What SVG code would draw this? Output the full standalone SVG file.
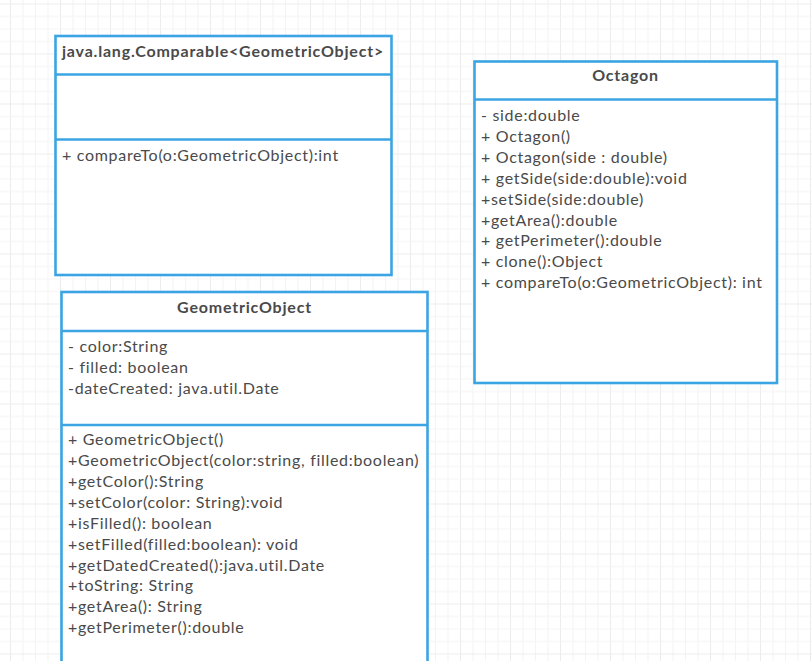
<svg xmlns="http://www.w3.org/2000/svg" width="812" height="661" viewBox="0 0 812 661">
<style>
.box{fill:#ffffff;stroke:#3ba5e3;stroke-width:2.6}
.div{stroke:#3ba5e3;stroke-width:2.6}
.t{font-family:Lato,"Open Sans","Liberation Sans",sans-serif;font-size:16px;letter-spacing:0.7px;fill:#4a4a4a}
.b{font-family:Lato,"Open Sans","Liberation Sans",sans-serif;font-size:16px;letter-spacing:0.8px;font-weight:bold;fill:#4a4a4a}
</style>
<defs>
<pattern id="grid" patternUnits="userSpaceOnUse" x="10" y="3.5" width="50" height="50">
<rect x="0" y="0" width="1" height="50" fill="#ececec"/>
<rect x="12.5" y="0" width="1" height="50" fill="#f4f4f4"/>
<rect x="25" y="0" width="1" height="50" fill="#f4f4f4"/>
<rect x="37.5" y="0" width="1" height="50" fill="#f4f4f4"/>
<rect x="0" y="0" width="50" height="1" fill="#ececec"/>
<rect x="0" y="12.5" width="50" height="1" fill="#f4f4f4"/>
<rect x="0" y="25" width="50" height="1" fill="#f4f4f4"/>
<rect x="0" y="37.5" width="50" height="1" fill="#f4f4f4"/>
</pattern>
</defs>
<rect x="0" y="0" width="812" height="661" fill="#ffffff"/>
<rect x="0" y="0" width="812" height="661" fill="url(#grid)"/>
<g id="connectors"></g>
<g id="comparable">
<rect class="box" x="55.5" y="36" width="336" height="239"/>
<line class="div" x1="55.5" y1="74.5" x2="391.5" y2="74.5"/>
<line class="div" x1="55.5" y1="139.5" x2="391.5" y2="139.5"/>
<text class="b" x="62" y="57">java.lang.Comparable&lt;GeometricObject&gt;</text>
<text class="t" x="62" y="161">+ compareTo(o:GeometricObject):int</text>
</g>
<g id="octagon">
<rect class="box" x="474.5" y="61.5" width="302.5" height="321.5"/>
<line class="div" x1="474.5" y1="99.5" x2="777" y2="99.5"/>
<text class="b" x="625.5" y="81" text-anchor="middle">Octagon</text>
<text class="t" x="481" y="121">- side:double</text>
<text class="t" x="481" y="142">+ Octagon()</text>
<text class="t" x="481" y="163">+ Octagon(side : double)</text>
<text class="t" x="481" y="183.5">+ getSide(side:double):void</text>
<text class="t" x="481" y="204.5">+setSide(side:double)</text>
<text class="t" x="481" y="225.5">+getArea():double</text>
<text class="t" x="481" y="246">+ getPerimeter():double</text>
<text class="t" x="481" y="267">+ clone():Object</text>
<text class="t" x="481" y="288">+ compareTo(o:GeometricObject): int</text>
</g>
<g id="geometricobject">
<rect class="box" x="61.5" y="292" width="366" height="400"/>
<line class="div" x1="61.5" y1="331" x2="427.5" y2="331"/>
<line class="div" x1="61.5" y1="425" x2="427.5" y2="425"/>
<text class="b" x="244.5" y="313" text-anchor="middle">GeometricObject</text>
<text class="t" x="68" y="352">- color:String</text>
<text class="t" x="68" y="373">- filled: boolean</text>
<text class="t" x="68" y="393.5">-dateCreated: java.util.Date</text>
<text class="t" x="68" y="445">+ GeometricObject()</text>
<text class="t" x="68" y="466">+GeometricObject(color:string, filled:boolean)</text>
<text class="t" x="68" y="487">+getColor():String</text>
<text class="t" x="68" y="508">+setColor(color: String):void</text>
<text class="t" x="68" y="528.5">+isFilled(): boolean</text>
<text class="t" x="68" y="549.5">+setFilled(filled:boolean): void</text>
<text class="t" x="68" y="570.5">+getDatedCreated():java.util.Date</text>
<text class="t" x="68" y="591">+toString: String</text>
<text class="t" x="68" y="612">+getArea(): String</text>
<text class="t" x="68" y="633">+getPerimeter():double</text>
</g>
</svg>
